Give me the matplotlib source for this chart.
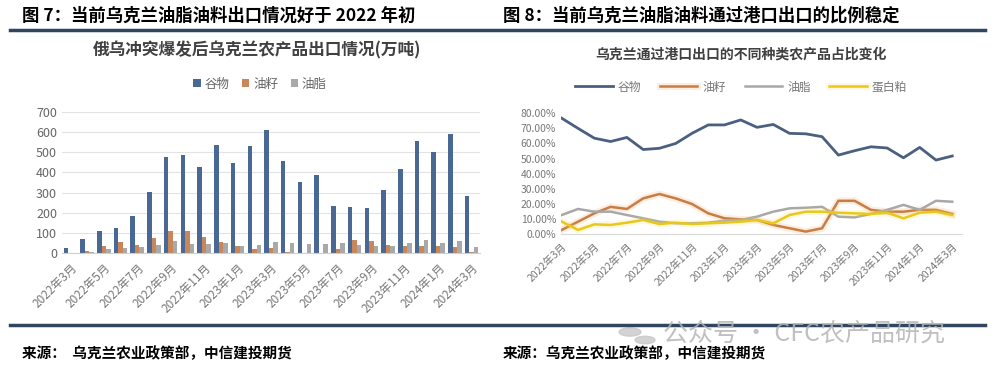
# 乌克兰农产品出口 - 两个图并排
import matplotlib.pyplot as plt
import matplotlib.patheffects as pe
import numpy as np

plt.rcParams['font.family'] = ['Noto Sans CJK SC', 'DejaVu Sans']

# 月份
meses = ['2022年3月', '2022年4月', '2022年5月', '2022年6月', '2022年7月', '2022年8月',
         '2022年9月', '2022年10月', '2022年11月', '2022年12月', '2023年1月', '2023年2月',
         '2023年3月', '2023年4月', '2023年5月', '2023年6月', '2023年7月', '2023年8月',
         '2023年9月', '2023年10月', '2023年11月', '2023年12月', '2024年1月', '2024年2月',
         '2024年3月']

# 图7：出口量（万吨）
gu_wu = [25, 69, 107, 124, 185, 305, 475, 486, 428, 535, 445, 530, 613,
         458, 354, 387, 234, 229, 222, 311, 415, 558, 502, 590, 283]
you_zi = [0, 8, 33, 54, 41, 74, 107, 107, 79, 54, 33, 18, 23,
          4, 0, 0, 22, 67, 62, 40, 33, 35, 33, 28, 5]
you_zhi = [0, 5, 20, 25, 30, 41, 58, 46, 46, 49, 33, 38, 55,
           50, 45, 45, 50, 40, 33, 33, 50, 67, 50, 62, 28]

# 图8：港口出口占比（%）
p_gu_wu = [76.7, 70, 63.5, 61.3, 64, 56, 56.8, 60, 66.7, 72.3, 72.3, 75.6, 70.7,
           72.6, 66.7, 66.4, 64.5, 52.3, 55.2, 57.8, 57, 50.5, 57.4, 49, 51.7]
p_you_zi = [2.7, 8.2, 13.7, 18, 16.6, 23.6, 26.5, 23.6, 19.9, 13.7, 10.4, 9.7, 9.3,
            6, 3.8, 1.6, 3.8, 22, 22, 16, 14.8, 14.8, 16, 16, 13.3]
p_you_zhi = [12.6, 16.6, 14.8, 14.8, 12.6, 10.4, 8.2, 7.1, 7.1, 7.5, 8.8, 9.3, 11.5,
             14.8, 17, 17.4, 18, 11.5, 11, 13.3, 16, 19.3, 16, 22, 21.4]
p_dan_bai_po = [8.2, 2.7, 6.4, 6, 7.5, 9.3, 6.6, 7.5, 6.6, 7.1, 7.5, 8.2, 9.3,
                7.1, 12.6, 14.8, 14.8, 14.1, 13.7, 13.3, 14.1, 10.4, 14.1, 14.8, 12.6]

W, H = 998, 376
fig = plt.figure(figsize=(W / 100, H / 100), dpi=100)
fig.patch.set_facecolor('white')

def fx(px):
    return px / W

def fy(py):
    return 1 - py / H

# 标题和分隔线
navy = '#2f4560'
fig.text(fx(22), fy(16), '图 7：当前乌克兰油脂油料出口情况好于 2022 年初',
         fontsize=12.5, fontweight='bold', va='center', color='black')
fig.text(fx(503), fy(16), '图 8：当前乌克兰油脂油料通过港口出口的比例稳定',
         fontsize=12.5, fontweight='bold', va='center', color='black')
for y in (30, 325):
    fig.add_artist(plt.Line2D([fx(10), fx(985)], [fy(y), fy(y)], color=navy, lw=2.5))

fig.text(fx(22), fy(353), '来源：  乌克兰农业政策部，中信建投期货',
         fontsize=10.5, fontweight='bold', va='center', color='black')
fig.text(fx(503), fy(353), '来源：乌克兰农业政策部，中信建投期货',
         fontsize=10.5, fontweight='bold', va='center', color='black')

# 水印
fig.add_artist(plt.Circle((fx(630), fy(332)), 0.011, transform=fig.transFigure,
                          color='#c8c8c8', alpha=0.8))
fig.add_artist(plt.Circle((fx(645), fy(340)), 0.010, transform=fig.transFigure,
                          color='#c8c8c8', alpha=0.8))
fig.text(fx(663), fy(334), '公众号 · CFC农产品研究', fontsize=18,
         color='#b5b5b5', alpha=0.85, va='center')

# ---------------- 图7 柱状图 ----------------
c_blue, c_orange, c_gray = '#4a6894', '#c8875a', '#a9a9a9'
ax1 = fig.add_axes([fx(62), fy(253), fx(480) - fx(62), fy(112) - fy(253)])
x = np.arange(len(meses))
w = 0.27
ax1.bar(x - w, gu_wu, w, color=c_blue, label='谷物')
ax1.bar(x, you_zi, w, color=c_orange, label='油籽')
ax1.bar(x + w, you_zhi, w, color=c_gray, label='油脂')
ax1.set_xlim(-0.5, len(meses) - 0.5)
ax1.set_ylim(0, 700)
ax1.set_yticks(range(0, 701, 100))
ax1.grid(axis='y', color='#e3e3e3', lw=0.8)
ax1.set_axisbelow(True)
for s in ('top', 'right', 'left'):
    ax1.spines[s].set_visible(False)
ax1.spines['bottom'].set_color('#d0d0d0')
ax1.set_xticks(x[::2])
ax1.set_xticklabels(meses[::2], rotation=45, ha='right', rotation_mode='anchor')
ax1.tick_params(length=0, labelsize=9, labelcolor='#666666')
ax1.tick_params(axis='x', labelsize=8.5, pad=6, labelcolor='#777777')

fig.text(fx(257), fy(50), '俄乌冲突爆发后乌克兰农产品出口情况(万吨)',
         fontsize=12, fontweight='bold', color='#404040', ha='center', va='center')
fig.legend(*ax1.get_legend_handles_labels(), loc='center', bbox_to_anchor=(fx(260), fy(84)),
           ncol=3, frameon=False, fontsize=9, labelcolor='#666666',
           handlelength=0.6, handleheight=0.6, handletextpad=0.3, columnspacing=1.0)

# ---------------- 图8 折线图 ----------------
l_blue, l_orange, l_gray, l_yellow = '#4b5f80', '#c87d45', '#a8a8a8', '#e8c81c'
ax2 = fig.add_axes([fx(561), fy(234), fx(962) - fx(561), fy(113.3) - fy(234)])
glow = lambda c: [pe.Stroke(linewidth=5, foreground=c, alpha=0.18), pe.Normal()]
ax2.plot(x, p_gu_wu, color=l_blue, lw=2, label='谷物')
ax2.plot(x, p_you_zi, color=l_orange, lw=1.8, label='油籽', path_effects=glow('#f0a050'))
ax2.plot(x, p_you_zhi, color=l_gray, lw=1.8, label='油脂')
ax2.plot(x, p_dan_bai_po, color=l_yellow, lw=1.8, label='蛋白粕', path_effects=glow('#f5dc50'))
ax2.set_xlim(-0.05, 24.6)
ax2.set_ylim(0, 80)
ax2.set_yticks(range(0, 81, 10))
ax2.set_yticklabels([f'{v:.2f}%' for v in range(0, 81, 10)])
for s in ('top', 'right', 'left'):
    ax2.spines[s].set_visible(False)
ax2.spines['bottom'].set_color('#d9d9d9')
ax2.set_xticks(x[::2])
ax2.set_xticklabels(meses[::2], rotation=45, ha='right', rotation_mode='anchor')
ax2.tick_params(length=0, labelsize=7.5, labelcolor='#777777')
ax2.tick_params(axis='x', labelsize=7.5, pad=5)

fig.text(fx(741), fy(55), '乌克兰通过港口出口的不同种类农产品占比变化',
         fontsize=10, fontweight='bold', color='#404040', ha='center', va='center')
fig.legend(*ax2.get_legend_handles_labels(), loc='center', bbox_to_anchor=(fx(741), fy(87)),
           ncol=4, frameon=False, fontsize=8.5, labelcolor='#777777',
           handlelength=3.2, handletextpad=0.4, columnspacing=1.6)

fig.savefig('out.png', dpi=100)
